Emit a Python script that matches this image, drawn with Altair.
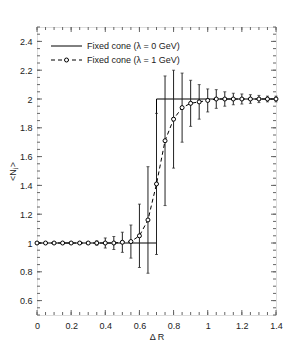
import altair as alt
import pandas as pd
import numpy as np

# data
dr = [0.0, 0.05, 0.1, 0.15, 0.2, 0.25, 0.3, 0.35, 0.4, 0.45, 0.5, 0.55, 0.6, 0.65, 0.7,
      0.75, 0.8, 0.85, 0.9, 0.95, 1.0, 1.05, 1.1, 1.15, 1.2, 1.25, 1.3, 1.35, 1.4]
nj = [1.0, 1.0, 1.0, 1.0, 1.0, 1.0, 1.0, 1.0, 1.0, 1.0, 1.005, 1.01, 1.05, 1.16, 1.41,
      1.71, 1.86, 1.94, 1.97, 1.98, 1.99, 2.0, 2.0, 2.0, 2.0, 2.0, 2.0, 2.0, 2.0]
nj_err = [0.0, 0.0, 0.0, 0.0, 0.0, 0.008, 0.008, 0.015, 0.035, 0.045, 0.07, 0.115, 0.22,
          0.37, 0.49, 0.45, 0.34, 0.24, 0.16, 0.12, 0.08, 0.065, 0.05, 0.04, 0.035, 0.03,
          0.025, 0.02, 0.02]
step_x = [0.0, 0.7, 1.4]
step_y = [1.0, 2.0, 2.0]
x_labels = [0, 0.2, 0.4, 0.6, 0.8, 1.0, 1.2, 1.4]
y_labels = [0.6, 0.8, 1.0, 1.2, 1.4, 1.6, 1.8, 2.0, 2.2, 2.4]
x_minor = [round(v, 2) for v in np.arange(0, 1.4001, 0.05)]
y_minor = [round(v, 2) for v in np.arange(0.5, 2.5001, 0.05)]
legend_labels = ["Fixed cone (λ = 0 GeV)", "Fixed cone (λ = 1 GeV)"]

W, H = 239, 288
FONT = "Liberation Sans"

df = pd.DataFrame({"x": dr, "y": nj, "e": nj_err})
df["lo"] = df["y"] - df["e"]
df["hi"] = df["y"] + df["e"]
dfe = df[df["e"] > 0]
dstep = pd.DataFrame({"x": step_x, "y": step_y})

xs = alt.Scale(domain=[0, 1.4], nice=False, zero=False)
ys = alt.Scale(domain=[0.5, 2.5], nice=False, zero=False)

xaxis = alt.Axis(values=x_labels, tickSize=0, domain=False, grid=False, labelFont=FONT,
                 labelFontSize=9, labelColor="#222", labelPadding=6, title="Δ R",
                 titleFont=FONT, titleFontSize=9, titleFontWeight="normal", titleColor="#222",
                 titlePadding=2, labelExpr="format(datum.value, '~g')",
                 labelFlush=False, labelOverlap=False)
yaxis = alt.Axis(values=y_labels, tickSize=0, domain=False, grid=False, labelFont=FONT,
                 labelFontSize=9, labelColor="#222", labelPadding=5, title="<Nⱼ>",
                 titleFont=FONT, titleFontSize=9, titleFontWeight="normal", titleColor="#222",
                 titlePadding=2, labelExpr="format(datum.value, '~g')", labelFlush=False,
                 labelOverlap=False)

def X(f):
    return alt.X(f, scale=xs, axis=xaxis, title="Δ R")

def Y(f):
    return alt.Y(f, scale=ys, axis=yaxis, title="<Nⱼ>")

base = alt.Chart(df)

axes_layer = base.mark_point(opacity=0).encode(x=X("x:Q"), y=Y("y:Q"))

step = alt.Chart(dstep).mark_line(interpolate="step-after", color="black", strokeWidth=1).encode(
    x=X("x:Q"), y=Y("y:Q"))

err_rule = alt.Chart(dfe).mark_rule(color="#222", strokeWidth=1).encode(
    x=X("x:Q"), y=Y("lo:Q"), y2="hi:Q")
cap_lo = alt.Chart(dfe).mark_tick(orient="horizontal", size=3, thickness=1, color="#222").encode(
    x=X("x:Q"), y=Y("lo:Q"))
cap_hi = alt.Chart(dfe).mark_tick(orient="horizontal", size=3, thickness=1, color="#222").encode(
    x=X("x:Q"), y=Y("hi:Q"))

dashed = base.mark_line(color="black", strokeWidth=1, strokeDash=[4, 3]).encode(
    x=X("x:Q"), y=Y("y:Q"))
pts = base.mark_point(shape="circle", size=16, filled=True, fill="white", stroke="black",
                      strokeWidth=1, opacity=1).encode(x=X("x:Q"), y=Y("y:Q"))

# inward ticks
xmin_df = pd.DataFrame({"v": x_minor})
ymin_df = pd.DataFrame({"v": y_minor})
xmaj_df = pd.DataFrame({"v": x_labels})
ymaj_df = pd.DataFrame({"v": y_labels})
tc = "#666"
ticks = []
for d, ln in [(xmin_df, 3), (xmaj_df, 5)]:
    ticks.append(alt.Chart(d).mark_rule(color=tc, strokeWidth=1).encode(
        x=X("v:Q"), y=alt.value(H), y2=alt.value(H - ln)))
    ticks.append(alt.Chart(d).mark_rule(color=tc, strokeWidth=1).encode(
        x=X("v:Q"), y=alt.value(0), y2=alt.value(ln)))
for d, ln in [(ymin_df, 3), (ymaj_df, 5)]:
    ticks.append(alt.Chart(d).mark_rule(color=tc, strokeWidth=1).encode(
        y=Y("v:Q"), x=alt.value(0), x2=alt.value(ln)))
    ticks.append(alt.Chart(d).mark_rule(color=tc, strokeWidth=1).encode(
        y=Y("v:Q"), x=alt.value(W), x2=alt.value(W - ln)))

# legend
leg_df = pd.DataFrame({"label": legend_labels, "row": [0, 1]})
leg_solid = alt.Chart(leg_df).transform_filter("datum.row == 0").mark_rule(
    color="black", strokeWidth=1).encode(x=alt.value(14), x2=alt.value(45), y=alt.value(19))
leg_dash = alt.Chart(leg_df).transform_filter("datum.row == 1").mark_rule(
    color="black", strokeWidth=1, strokeDash=[4, 3]).encode(
    x=alt.value(14), x2=alt.value(45), y=alt.value(33))
leg_pt = alt.Chart(leg_df).transform_filter("datum.row == 1").mark_point(
    shape="circle", size=16, filled=True, fill="white", stroke="black", strokeWidth=1,
    opacity=1).encode(x=alt.value(29.5), y=alt.value(33))
leg_text0 = alt.Chart(leg_df).transform_filter("datum.row == 0").mark_text(
    align="left", baseline="middle", font=FONT, fontSize=9, color="#222").encode(
    x=alt.value(50), y=alt.value(19), text="label:N")
leg_text1 = alt.Chart(leg_df).transform_filter("datum.row == 1").mark_text(
    align="left", baseline="middle", font=FONT, fontSize=9, color="#222").encode(
    x=alt.value(50), y=alt.value(33), text="label:N")

chart = alt.layer(axes_layer, *ticks, step, err_rule, cap_lo, cap_hi, dashed, pts,
                  leg_solid, leg_dash, leg_pt, leg_text0, leg_text1).properties(
    width=W, height=H,
    autosize=alt.AutoSizeParams(type="none"),
    padding={"left": 29, "top": 19, "right": 17, "bottom": 25},
).configure_view(stroke="black", strokeWidth=1).configure(background="white")

chart.save("out.html", embed_options={"renderer": "svg", "actions": False})
